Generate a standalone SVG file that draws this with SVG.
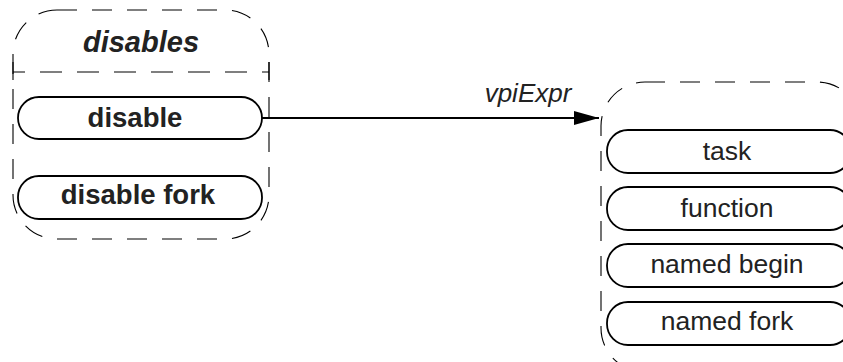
<svg xmlns="http://www.w3.org/2000/svg" width="843" height="362" viewBox="0 0 843 362">
<style>
.cont{fill:none;stroke:#000;stroke-width:1.1;stroke-dasharray:20 15}
.pill{fill:#fff;stroke:#000;stroke-width:1.8}
.t{font-family:"Liberation Sans",Arial,sans-serif;fill:#222;text-anchor:middle}
.b{font-weight:bold;font-size:27.5px}
.r{font-size:26.5px}
.i{font-style:italic;font-size:26px}
</style>
<defs>
<marker id="arr" markerWidth="26" markerHeight="16" refX="25" refY="8" orient="auto" markerUnits="userSpaceOnUse">
<path d="M0,1 L25,8 L0,15 Z" fill="#000"/>
</marker>
</defs>
<g id="disables">
<rect class="cont" x="13" y="10" width="256" height="229" rx="44" ry="44"/>
<line class="cont" x1="13" y1="72" x2="269" y2="72" style="stroke-dasharray:12 15 22 15 22 15 22 15 22 15 22 15 22 15 22 15"/>
<line x1="13" y1="62" x2="13" y2="80" stroke="#000" stroke-width="1.1"/>
<line x1="269" y1="62" x2="269" y2="80" stroke="#000" stroke-width="1.1"/>
<text class="t" x="141" y="52" style="font-weight:bold;font-style:italic;font-size:29px">disables</text>
</g>
<g id="disable">
<rect class="pill" x="18" y="97" width="244" height="42" rx="21" ry="21"/>
<text class="t b" x="135" y="127">disable</text>
</g>
<g id="disable_fork">
<rect class="pill" x="18" y="176" width="244" height="43" rx="21" ry="21"/>
<text class="t b" x="138" y="204">disable fork</text>
</g>
<g id="target">
<rect class="cont" x="601" y="82" width="260" height="290" rx="44" ry="44"/>
</g>
<g id="task">
<rect class="pill" x="607" y="130" width="244" height="43" rx="21" ry="21"/>
<text class="t r" x="727" y="160">task</text>
</g>
<g id="function">
<rect class="pill" x="607" y="187" width="244" height="43" rx="21" ry="21"/>
<text class="t r" x="727" y="217">function</text>
</g>
<g id="named_begin">
<rect class="pill" x="607" y="244" width="244" height="43" rx="21" ry="21"/>
<text class="t r" x="727" y="273">named begin</text>
</g>
<g id="named_fork">
<rect class="pill" x="607" y="302" width="244" height="43" rx="21" ry="21"/>
<text class="t r" x="727" y="330">named fork</text>
</g>
<g id="connectors">
<line x1="262" y1="118" x2="599" y2="118" stroke="#000" stroke-width="1.8" marker-end="url(#arr)"/>
<text class="t i" x="528" y="102">vpiExpr</text>
</g>
</svg>
